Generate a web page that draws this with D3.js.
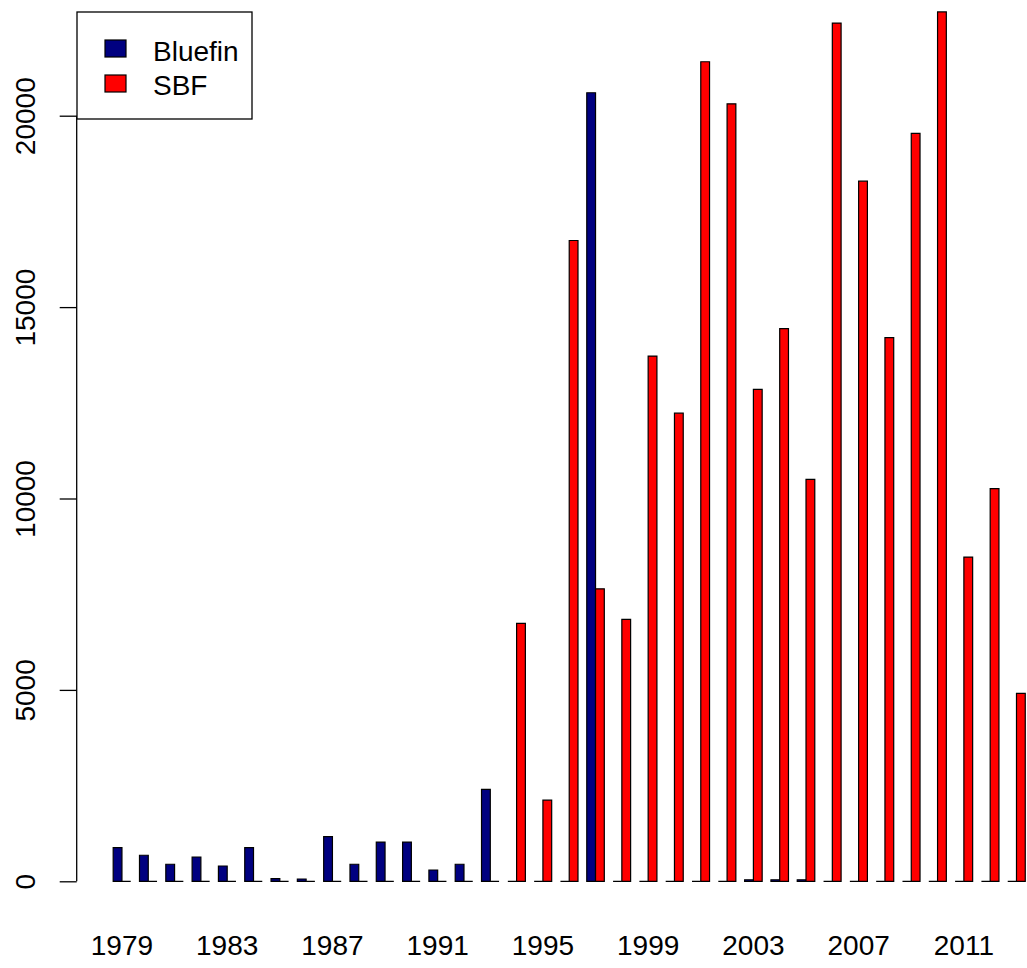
<!DOCTYPE html>
<html>
<head>
<meta charset="utf-8">
<script src="https://cdn.jsdelivr.net/npm/d3@7"></script>
<style>
  html, body { margin: 0; padding: 0; background: #fff; }
  svg { display: block; }
  text { font-family: "Liberation Sans", Arial, sans-serif; fill: #000; }
</style>
</head>
<body>
<svg id="chart" width="1027" height="968"></svg>
<script>
const years = ["1979","1980","1981","1982","1983","1984","1985","1986","1987","1988",
               "1989","1990","1991","1992","1993","1994","1995","1996","1997","1998",
               "1999","2000","2001","2002","2003","2004","2005","2006","2007","2008",
               "2009","2010","2011","2012","2013"];
const bluefin = [880, 680, 445, 635, 400, 880, 70, 60, 1165, 445,
                 1025, 1025, 295, 445, 2400, 0, 0, 0, 20600, 0,
                 0, 0, 0, 0, 40, 40, 40, 0, 0, 0,
                 0, 0, 0, 0, 0];
const sbf = [0, 0, 0, 0, 0, 0, 0, 0, 0, 0,
             0, 0, 0, 0, 0, 6740, 2120, 16740, 7640, 6840,
             13720, 12230, 21410, 20310, 12850, 14440, 10500, 22420, 18290, 14200,
             19540, 22710, 8470, 10260, 4910];
const seriesNames = ["Bluefin", "SBF"];
const seriesColors = ["#000080", "#FF0000"];
const xTickLabels = ["1979","1983","1987","1991","1995","1999","2003","2007","2011"];
const yTicks = [0, 5000, 10000, 15000, 20000];

const svg = d3.select("#chart");
const FONT = 28;

// R barplot user coordinates: group i -> bars [1+3i,2+3i] and [2+3i,3+3i]
const x = d3.scaleLinear().domain([-3.16, 109.16]).range([76.7, 76.7 + 112.32 * 8.77]);
const y = d3.scaleLinear().domain([0, 20000]).range([881.3, 115.7]);

const series = [bluefin, sbf];
const bars = [];
years.forEach((yr, i) => {
  series.forEach((vals, s) => {
    bars.push({ yr, s, v: vals[i], u0: 1 + 3 * i + s, u1: 2 + 3 * i + s });
  });
});

// paths so that zero-height bars still show their outline (as R does)
svg.append("g").selectAll("path").data(bars).join("path")
  .attr("d", d => {
    const x0 = x(d.u0), x1 = x(d.u1), y0 = y(0), y1 = y(d.v);
    return `M${x0},${y0}H${x1}V${y1}H${x0}Z`;
  })
  .attr("fill", d => seriesColors[d.s])
  .attr("stroke", "#000")
  .attr("stroke-width", 1.2);

// x labels (no axis line, as in R barplot)
const groupCenter = yr => x(2 + 3 * years.indexOf(yr));
svg.append("g").selectAll("text").data(xTickLabels).join("text")
  .attr("x", d => groupCenter(d))
  .attr("y", 955)
  .attr("text-anchor", "middle")
  .attr("font-size", FONT)
  .text(d => d);

// y axis
const yAxis = d3.axisLeft(y).tickValues(yTicks).tickSize(17).tickPadding(0).tickFormat(d3.format("d"));
const gy = svg.append("g").attr("transform", `translate(${x(-3.16)},0)`).call(yAxis);
gy.select(".domain").attr("d", `M0,${y(0)}V${y(20000)}`).attr("stroke", "#000").attr("stroke-width", 1.3);
gy.selectAll(".tick line").attr("stroke", "#000").attr("stroke-width", 1.3);
gy.selectAll(".tick text")
  .attr("font-size", FONT)
  .attr("font-family", "'Liberation Sans', Arial, sans-serif")
  .attr("fill", "#000")
  .attr("text-anchor", "middle")
  .attr("x", 0).attr("dy", 0)
  .attr("transform", "translate(-42,0) rotate(-90)");

// legend
const lg = svg.append("g");
lg.append("rect").attr("x", 77).attr("y", 12).attr("width", 175).attr("height", 107)
  .attr("fill", "#fff").attr("stroke", "#000").attr("stroke-width", 1.3);
seriesNames.forEach((name, k) => {
  lg.append("rect").attr("x", 105).attr("y", 40 + k * 35).attr("width", 21).attr("height", 17)
    .attr("fill", seriesColors[k]).attr("stroke", "#000").attr("stroke-width", 1.2);
  lg.append("text").attr("x", 153).attr("y", 61 + k * 34)
    .attr("font-size", FONT).text(name);
});
</script>
</body>
</html>
